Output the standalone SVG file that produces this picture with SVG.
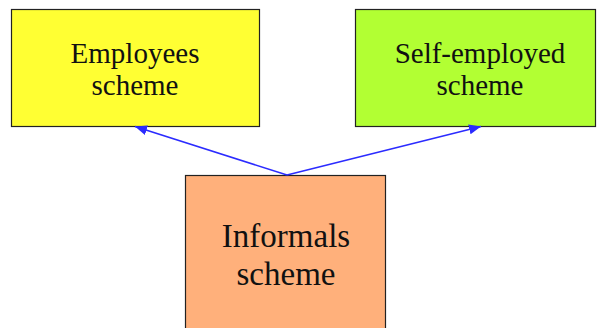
<svg xmlns="http://www.w3.org/2000/svg" width="598" height="328" viewBox="0 0 598 328">
<defs>
<style>
.box{stroke:#222;stroke-width:1.2}
.t{font-family:"Liberation Serif","Times New Roman",serif;fill:#111;text-anchor:middle}
.c{stroke:#2b2bff;stroke-width:1.5;fill:none}
</style>
<marker id="ah" viewBox="0 0 12 10" refX="12" refY="5" markerWidth="12" markerHeight="10" markerUnits="userSpaceOnUse" orient="auto"><path d="M0,0 L12,5 L0,10 z" fill="#2b2bff"/></marker>
</defs>
<rect width="598" height="328" fill="#fff"/>
<g id="employees">
<rect class="box" x="11.5" y="9.5" width="248" height="117" fill="#ffff33"/>
<text class="t" x="135" y="63" font-size="29">Employees</text>
<text class="t" x="135" y="95" font-size="29">scheme</text>
</g>
<g id="selfemployed">
<rect class="box" x="355.5" y="9.5" width="240" height="117" fill="#b2ff33"/>
<text class="t" x="480" y="63" font-size="29">Self-employed</text>
<text class="t" x="480" y="95" font-size="29">scheme</text>
</g>
<g id="informals">
<rect class="box" x="185.5" y="175.5" width="200" height="160" fill="#ffb07b"/>
<text class="t" x="286" y="247" font-size="33">Informals</text>
<text class="t" x="286" y="285" font-size="33">scheme</text>
</g>
<g id="connectors">
<path class="c" d="M287,175 L135,126.5" marker-end="url(#ah)"/>
<path class="c" d="M287,175 L481,126.5" marker-end="url(#ah)"/>
</g>
</svg>
